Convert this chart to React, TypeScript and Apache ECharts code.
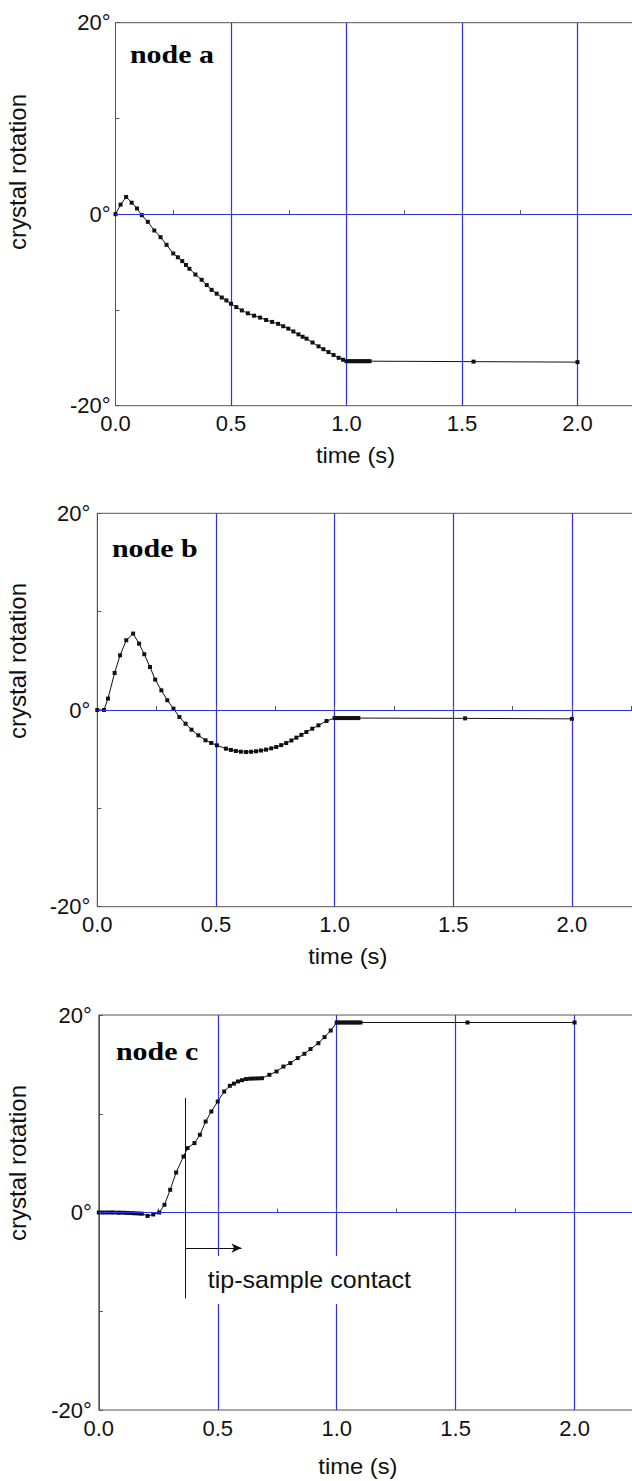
import React, { useEffect, useRef } from "react";
import * as echarts from "echarts";

// ---- data (time in s, crystal rotation in degrees) ----
const nodeA: [number, number][] = [
  [0, 0], [0.022, 1.0], [0.046, 1.8], [0.07, 1.2], [0.093, 0.6],
  [0.114, -0.1], [0.14, -0.8], [0.168, -1.7], [0.195, -2.4], [0.221, -3.2],
  [0.25, -4.1], [0.27, -4.5], [0.289, -4.9], [0.305, -5.3], [0.32, -5.7],
  [0.346, -6.3], [0.373, -6.85], [0.395, -7.4], [0.416, -7.9], [0.438, -8.3],
  [0.46, -8.7], [0.48, -9.0], [0.5, -9.35], [0.523, -9.7], [0.547, -10.05],
  [0.573, -10.35], [0.6, -10.6], [0.626, -10.8], [0.652, -11.05], [0.678, -11.25],
  [0.704, -11.45], [0.726, -11.7], [0.748, -11.95], [0.77, -12.25], [0.792, -12.55],
  [0.81, -12.8], [0.827, -13.0], [0.853, -13.4], [0.879, -13.8], [0.9, -14.1],
  [0.922, -14.4], [0.944, -14.7], [0.966, -15.0], [0.985, -15.2], [1.0, -15.35],
  [1.01, -15.35], [1.02, -15.35], [1.03, -15.35], [1.04, -15.35], [1.05, -15.35],
  [1.06, -15.35], [1.07, -15.35], [1.08, -15.35], [1.09, -15.35], [1.1, -15.35],
  [1.55, -15.4], [2.0, -15.45],
];

const nodeB: [number, number][] = [
  [0, 0], [0.028, 0], [0.045, 1.16], [0.073, 3.77], [0.096, 5.56],
  [0.122, 7.09], [0.151, 7.77], [0.176, 6.75], [0.198, 5.67], [0.222, 4.37],
  [0.244, 3.09], [0.27, 2.0], [0.295, 0.99], [0.321, 0.14], [0.346, -0.71],
  [0.372, -1.39], [0.397, -2.0], [0.426, -2.57], [0.456, -3.08], [0.48, -3.35],
  [0.504, -3.59], [0.542, -3.93], [0.563, -4.06], [0.584, -4.17], [0.605, -4.24],
  [0.627, -4.27], [0.648, -4.25], [0.669, -4.2], [0.69, -4.12], [0.711, -4.03],
  [0.733, -3.9], [0.754, -3.76], [0.775, -3.57], [0.796, -3.36], [0.818, -3.1],
  [0.839, -2.81], [0.86, -2.53], [0.881, -2.24], [0.906, -1.9], [0.932, -1.56],
  [0.966, -1.12], [1.0, -0.82],
  [1.01, -0.82], [1.02, -0.82], [1.03, -0.82], [1.04, -0.82], [1.05, -0.82],
  [1.06, -0.82], [1.07, -0.82], [1.08, -0.82], [1.09, -0.82], [1.1, -0.82],
  [1.55, -0.85], [2.0, -0.9],
];

const nodeC: [number, number][] = [
  [0, 0], [0.017, 0], [0.034, 0], [0.05, 0], [0.063, 0],
  [0.08, -0.02], [0.093, -0.02], [0.11, -0.03], [0.124, -0.05], [0.14, -0.06],
  [0.152, -0.08], [0.168, -0.1], [0.181, -0.12], [0.205, -0.35], [0.229, -0.2],
  [0.254, 0.0], [0.276, 0.78], [0.3, 2.3], [0.325, 4.05], [0.356, 5.67],
  [0.373, 6.52], [0.402, 7.03], [0.425, 7.87], [0.449, 9.21], [0.473, 10.23],
  [0.5, 11.24], [0.527, 12.25], [0.551, 12.83], [0.568, 13.05], [0.585, 13.27],
  [0.602, 13.4], [0.619, 13.51], [0.636, 13.55], [0.652, 13.57], [0.669, 13.58],
  [0.686, 13.6], [0.717, 13.94], [0.747, 14.28], [0.776, 14.78], [0.805, 15.13],
  [0.836, 15.64], [0.864, 16.07], [0.89, 16.55], [0.923, 17.15], [0.949, 17.76],
  [0.975, 18.43], [1.0, 19.24],
  [1.01, 19.24], [1.02, 19.24], [1.03, 19.24], [1.04, 19.24], [1.05, 19.24],
  [1.06, 19.24], [1.07, 19.24], [1.08, 19.24], [1.09, 19.24], [1.1, 19.24],
  [1.55, 19.24], [2.0, 19.24],
];

const panelNames = ["node a", "node b", "node c"];
const lastTimeTick = 2.0;
const gridAngles = [0];
const xAxisTitle = "time (s)";
const yAxisTitle = "crystal rotation";
const contactLabel = "tip-sample contact";
const contactTime = 0.364;
const contactSpan = [11.6, -8.7];
const contactArrow = { from: 0.364, to: 0.6, angle: -3.6 };

// ---- layout (pixels) ----
const W = 632;
const H = 1481;
const panels = [
  { left: 115.5, top: 22.7, height: 383, pxPerSec: 231, yMid: 172, titleX: 355.5, titleY: 455, nameX: 130, nameY: 54, ylabMargin: 5 },
  { left: 97.3, top: 513.3, height: 393.4, pxPerSec: 237.3, yMid: 661, titleX: 347.8, titleY: 956.7, nameX: 112, nameY: 548, ylabMargin: 7 },
  { left: 98.8, top: 1015, height: 395, pxPerSec: 237.9, yMid: 1163, titleX: 357.9, titleY: 1466, nameX: 116, nameY: 1051, ylabMargin: 7 },
];
const RIGHT_OVER = 10;
const AXIS_COLOR = "#555";
const GRID_BLUE = "#3030ec";
const INK = "#111";
const SANS = "'Liberation Sans', Arial, sans-serif";
const SERIF = "'Liberation Serif', 'Times New Roman', serif";

export default function App() {
  const ref = useRef<HTMLDivElement>(null);

  useEffect(() => {
    if (!ref.current) return;
    const chart = echarts.init(ref.current, null, { renderer: "svg" });

    const grids = panels.map((p) => ({
      left: p.left,
      top: p.top,
      height: p.height,
      right: -RIGHT_OVER,
      show: true,
      borderColor: AXIS_COLOR,
      borderWidth: 1,
      backgroundColor: "transparent",
      containLabel: false,
      outerBoundsMode: "none",
    }));

    const xAxes = panels.map((p, i) => ({
      type: "value",
      gridIndex: i,
      min: 0,
      max: (W + RIGHT_OVER - p.left) / p.pxPerSec,
      interval: 0.5,
      z: 0,
      axisLine: { show: true, lineStyle: { color: AXIS_COLOR, width: 1 } },
      axisTick: { show: true, inside: true, length: 4, lineStyle: { color: AXIS_COLOR } },
      minorTick: { show: true, splitNumber: 2, length: 4, lineStyle: { color: AXIS_COLOR } },
      axisLabel: {
        formatter: (v: number) => (v <= lastTimeTick + 1e-6 ? v.toFixed(1) : ""),
        fontSize: 22,
        color: INK,
        fontFamily: SANS,
        margin: 7,
        showMaxLabel: false,
      },
      splitLine: {
        show: true,
        showMinLine: false,
        showMaxLine: false,
        lineStyle: { color: GRID_BLUE, width: 1.2, type: "solid" },
      },
    }));

    const yAxes = panels.map((p, i) => ({
      type: "value",
      gridIndex: i,
      min: -20,
      max: 20,
      interval: 10,
      z: 1,
      axisLine: { show: true, lineStyle: { color: AXIS_COLOR, width: 1 } },
      axisTick: { show: true, inside: true, length: 4, lineStyle: { color: AXIS_COLOR } },
      axisLabel: {
        formatter: (v: number) => (v % 20 === 0 ? `${v}°` : ""),
        fontSize: 22,
        color: INK,
        fontFamily: SANS,
        margin: p.ylabMargin,
      },
      splitLine: { show: false },
    }));

    const datasets = [nodeA, nodeB, nodeC];
    const series = datasets.map((d, i) => {
      const lines: any[] = gridAngles.map((a) => ({ yAxis: a }));
      if (i === 2) {
        lines.push([
          { coord: [contactTime, contactSpan[0]], lineStyle: { color: INK, width: 1, type: "solid" } },
          { coord: [contactTime, contactSpan[1]] },
        ]);
        lines.push([
          { coord: [contactArrow.from, contactArrow.angle], lineStyle: { color: INK, width: 1, type: "solid" } },
          { coord: [contactArrow.to, contactArrow.angle], symbol: "arrow", symbolSize: [7, 10] },
        ]);
      }
      return {
        type: "line",
        xAxisIndex: i,
        yAxisIndex: i,
        data: d,
        symbol: "rect",
        symbolSize: 4,
        showSymbol: true,
        showAllSymbol: true,
        lineStyle: { color: INK, width: 1 },
        itemStyle: { color: INK },
        z: 3,
        markLine: {
          silent: true,
          symbol: "none",
          label: { show: false },
          lineStyle: { color: GRID_BLUE, width: 1.2, type: "solid" },
          data: lines,
        },
      };
    });

    const graphics: any[] = [];
    panels.forEach((p, i) => {
      graphics.push({
        type: "text",
        x: 17,
        y: p.yMid,
        rotation: Math.PI / 2,
        style: {
          text: yAxisTitle,
          textAlign: "center",
          textVerticalAlign: "middle",
          font: `24px ${SANS}`,
          fill: INK,
        },
        z: 100,
      });
      graphics.push({
        type: "text",
        x: p.titleX,
        y: p.titleY,
        scaleX: 1.08,
        style: {
          text: xAxisTitle,
          textAlign: "center",
          textVerticalAlign: "middle",
          font: `22px ${SANS}`,
          fill: INK,
        },
        z: 100,
      });
      graphics.push({
        type: "text",
        x: p.nameX,
        y: p.nameY,
        scaleX: 1.15,
        style: {
          text: panelNames[i],
          textAlign: "left",
          textVerticalAlign: "middle",
          font: `bold 26px ${SERIF}`,
          fill: "#000",
        },
        z: 100,
      });
    });
    graphics.push({
      type: "rect",
      shape: { x: 190, y: 1256, width: 240, height: 48 },
      style: { fill: "#fff" },
      z: 90,
    });
    graphics.push({
      type: "text",
      x: 207.7,
      y: 1280,
      scaleX: 1.09,
      style: {
        text: contactLabel,
        textAlign: "left",
        textVerticalAlign: "middle",
        font: `23px ${SANS}`,
        fill: INK,
      },
      z: 100,
    });

    chart.setOption({
      animation: false,
      backgroundColor: "#fff",
      grid: grids,
      xAxis: xAxes,
      yAxis: yAxes,
      series,
      graphic: graphics,
    });

    return () => chart.dispose();
  }, []);

  return (
    <div
      ref={ref}
      style={{ position: "absolute", left: 0, top: 0, width: W, height: H, background: "#fff" }}
    />
  );
}
